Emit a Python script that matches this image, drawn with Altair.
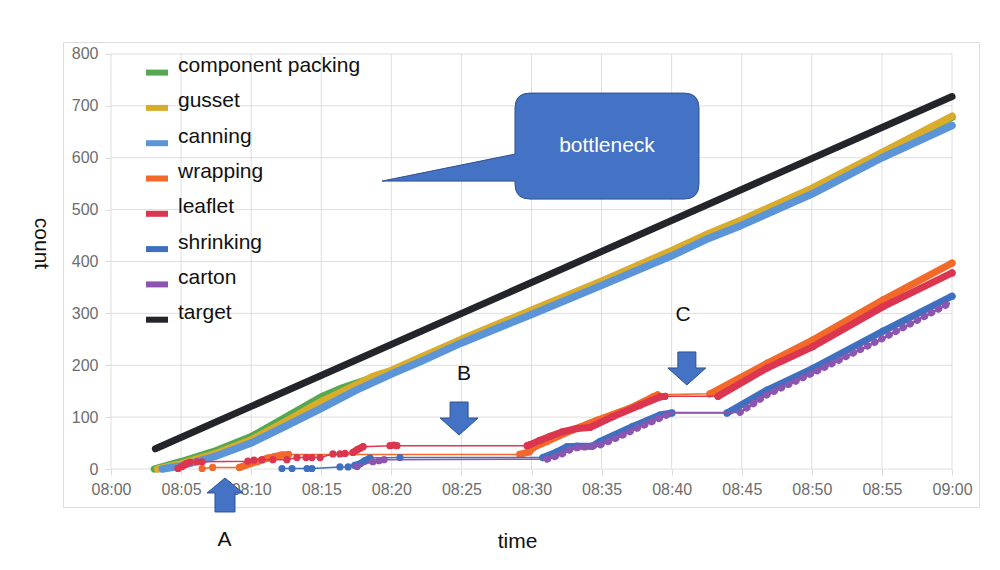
import altair as alt
import pandas as pd

# ---------------- data ----------------
SERIES = ["component packing", "gusset", "canning", "wrapping",
          "leaflet", "shrinking", "carton", "target"]
COLORS = ["#55a84f", "#d9ac2b", "#5b95d8", "#f2692a",
          "#dc3550", "#3f70c0", "#8c56b0", "#23252b"]

X_TICK_LABELS = ["08:00", "08:05", "08:10", "08:15", "08:20", "08:25", "08:30",
                 "08:35", "08:40", "08:45", "08:50", "08:55", "09:00"]
X_TICK_MINUTES = [0, 5, 10, 15, 20, 25, 30, 35, 40, 45, 50, 55, 60]
Y_TICKS = [0, 100, 200, 300, 400, 500, 600, 700, 800]

# upper (thick) series
PACKING_TIME = ["08:03:06", "08:05:00", "08:07:30", "08:10:00", "08:12:30", "08:15:00",
                "08:16:30", "08:18:40", "08:20:00", "08:22:00", "08:25:00", "08:30:00",
                "08:35:00", "08:40:00", "08:42:40", "08:45:00", "08:50:00", "08:55:00", "09:00:00"]
PACKING_COUNT = [0, 14, 35, 62, 100, 139, 156, 176, 188, 212, 248, 304,
                 360, 419, 452, 478, 539, 608, 678]

GUSSET_TIME = ["08:03:20", "08:05:00", "08:07:30", "08:10:00", "08:12:30", "08:15:00",
               "08:17:30", "08:18:40", "08:20:00", "08:22:00", "08:25:00", "08:30:00",
               "08:35:00", "08:40:00", "08:42:40", "08:45:00", "08:50:00", "08:55:00", "09:00:00"]
GUSSET_COUNT = [0, 10, 30, 56, 92, 130, 162, 178, 190, 214, 250, 306,
                362, 421, 454, 480, 541, 610, 680]

CANNING_TIME = ["08:03:40", "08:05:00", "08:07:30", "08:10:00", "08:12:30", "08:15:00",
                "08:17:30", "08:20:00", "08:22:00", "08:25:00", "08:30:00", "08:35:00",
                "08:40:00", "08:42:40", "08:45:00", "08:50:00", "08:55:00", "09:00:00"]
CANNING_COUNT = [0, 6, 25, 50, 83, 117, 152, 183, 206, 243, 298, 354,
                 411, 445, 470, 530, 600, 662]

TARGET_TIME = ["08:03:10", "09:00:00"]
TARGET_COUNT = [39, 718]

# lower series: run 0 = separate readings, run > 0 = dense stretch of readings
WRAPPING_TIME = ["08:06:30", "08:07:15", "08:09:10", "08:09:40", "08:10:25", "08:11:10",
                 "08:11:40", "08:12:10", "08:12:40",
                 "08:29:10", "08:29:50", "08:30:10", "08:31:05", "08:32:55", "08:34:40",
                 "08:37:00", "08:38:40", "08:39:00",
                 "08:42:44", "08:46:50", "08:50:05", "08:55:05", "09:00:00"]
WRAPPING_COUNT = [1, 3, 3, 8, 14, 21, 24, 27, 28,
                  28, 33, 42, 53, 75, 94, 117, 139, 143,
                  145, 204, 249, 326, 397]
WRAPPING_RUN = [0, 0, 1, 1, 1, 1, 1, 1, 1,
                2, 2, 2, 2, 2, 2, 2, 2, 2,
                3, 3, 3, 3, 3]

LEAFLET_TIME = ["08:04:47", "08:05:04", "08:05:21", "08:05:38", "08:06:08", "08:06:30",
                "08:09:46", "08:10:12", "08:10:46", "08:11:33", "08:12:33", "08:13:16",
                "08:13:55", "08:14:20", "08:14:55", "08:15:50", "08:16:20", "08:16:42",
                "08:17:16", "08:17:33", "08:17:46", "08:17:59", "08:19:54", "08:20:11",
                "08:20:24",
                "08:29:41", "08:29:53", "08:30:35", "08:31:20", "08:32:15", "08:33:15",
                "08:34:10", "08:35:49", "08:37:44", "08:39:10", "08:39:31",
                "08:43:18", "08:46:50", "08:50:05", "08:55:05", "09:00:00"]
LEAFLET_COUNT = [1, 5, 10, 13, 14, 14,
                 15, 17, 18, 18, 18, 22,
                 22, 22, 22, 29, 29, 30,
                 32, 37, 40, 43, 45, 46,
                 45,
                 45, 47, 55, 63, 72, 78,
                 80, 101, 123, 139, 140,
                 140, 195, 236, 313, 378]
LEAFLET_RUN = [1, 1, 1, 1, 0, 0,
               0, 0, 0, 0, 0, 0,
               0, 0, 0, 0, 0, 0,
               2, 2, 2, 2, 0, 0,
               0,
               0, 3, 3, 3, 3, 3,
               3, 3, 3, 3, 3,
               4, 4, 4, 4, 4]

SHRINKING_TIME = ["08:12:12", "08:12:55", "08:13:59", "08:14:20", "08:16:20", "08:16:55",
                  "08:17:24", "08:17:46", "08:18:07", "08:18:29", "08:20:37",
                  "08:30:49", "08:31:49", "08:32:32", "08:33:15", "08:34:19", "08:34:53",
                  "08:37:14", "08:39:10", "08:40:01",
                  "08:43:57", "08:46:48", "08:50:05", "08:55:05", "09:00:00"]
SHRINKING_COUNT = [1, 1, 1, 1, 4, 4, 7, 10, 16, 21, 22,
                   22, 33, 43, 44, 44, 53, 82, 104, 108,
                   108, 152, 194, 266, 333]
SHRINKING_RUN = [0, 0, 0, 0, 0, 0, 1, 1, 1, 1, 0,
                 2, 2, 2, 2, 2, 2, 2, 2, 2,
                 3, 3, 3, 3, 3]

CARTON_TIME = ["08:17:33", "08:18:41", "08:19:07", "08:19:29",
               "08:31:07", "08:32:02", "08:32:58", "08:33:40", "08:34:53", "08:36:06",
               "08:37:44", "08:39:40", "08:40:06",
               "08:44:52", "08:46:48", "08:50:05", "08:55:05", "08:59:51"]
CARTON_COUNT = [5, 14, 16, 18,
                19, 27, 40, 42, 46, 60, 81, 104, 109,
                109, 143, 185, 252, 320]
CARTON_RUN = [0, 0, 0, 0,
              1, 1, 1, 1, 1, 1, 1, 1, 1,
              2, 2, 2, 2, 2]

# annotations (tip / centre positions in data units)
LETTERS = ["A", "B", "C"]
LETTER_TIME = ["08:08:06", "08:25:11", "08:40:49"]
LETTER_COUNT = [-137, 183, 297]
DOWN_ARROW_TIME = ["08:24:50", "08:41:05"]
DOWN_ARROW_COUNT = [65.5, 162]
UP_ARROW_TIME = ["08:08:08"]
UP_ARROW_COUNT = [-17.3]
CALLOUT_TIME = ["08:19:20"]
CALLOUT_COUNT = [555]
CALLOUT_TEXT = "bottleneck"


def to_min(t):
    h, m, s = (int(v) for v in t.split(":"))
    return (h - 8) * 60 + m + s / 60.0


rows = []
for name, ts, cs in [("component packing", PACKING_TIME, PACKING_COUNT),
                     ("gusset", GUSSET_TIME, GUSSET_COUNT),
                     ("canning", CANNING_TIME, CANNING_COUNT),
                     ("target", TARGET_TIME, TARGET_COUNT)]:
    for t, c in zip(ts, cs):
        rows.append({"series": name, "time": t, "minute": to_min(t), "count": c, "run": 1})
for name, ts, cs, rs in [("wrapping", WRAPPING_TIME, WRAPPING_COUNT, WRAPPING_RUN),
                         ("leaflet", LEAFLET_TIME, LEAFLET_COUNT, LEAFLET_RUN),
                         ("shrinking", SHRINKING_TIME, SHRINKING_COUNT, SHRINKING_RUN),
                         ("carton", CARTON_TIME, CARTON_COUNT, CARTON_RUN)]:
    for t, c, r in zip(ts, cs, rs):
        rows.append({"series": name, "time": t, "minute": to_min(t), "count": c, "run": r})
df = pd.DataFrame(rows)

grid_h = pd.DataFrame({"count": Y_TICKS, "minute": 0, "minute2": 60})
grid_v = pd.DataFrame({"minute": X_TICK_MINUTES, "count": 0, "count2": 800})

letters = pd.DataFrame({"label": LETTERS, "minute": [to_min(t) for t in LETTER_TIME],
                        "count": LETTER_COUNT})
down_arrows = pd.DataFrame({"minute": [to_min(t) for t in DOWN_ARROW_TIME],
                            "count": DOWN_ARROW_COUNT})
up_arrows = pd.DataFrame({"minute": [to_min(t) for t in UP_ARROW_TIME],
                          "count": UP_ARROW_COUNT})
callout = pd.DataFrame({"minute": [to_min(t) for t in CALLOUT_TIME],
                        "count": CALLOUT_COUNT, "text": [CALLOUT_TEXT]})

# ---------------- chart ----------------
FONT = "Liberation Sans"
W, H = 916, 465
x_scale = alt.Scale(domain=[-3.424, 61.925], nice=False, zero=False)
y_scale = alt.Scale(domain=[-73.25, 823.1], nice=False, zero=False)
color_scale = alt.Scale(domain=SERIES, range=COLORS)

label_expr = "[" + ",".join("'%s'" % s for s in X_TICK_LABELS) + "][round(datum.value / 5)]"
x_axis = alt.Axis(values=X_TICK_MINUTES, labelExpr=label_expr, offset=-38, grid=False,
                  domain=False, ticks=True, tickSize=6, tickColor="#dcdcdc",
                  labelPadding=6, labelFontSize=16, labelColor="#6d6d6d", labelFont=FONT,
                  title="time", titleFontSize=21, titleFont=FONT, titleFontWeight="normal",
                  titleColor="#111111", titleX=454, titleY=72, titleAlign="center",
                  titleBaseline="middle")
y_axis = alt.Axis(values=Y_TICKS, offset=-48, grid=False, domain=False, ticks=True,
                  tickSize=6, tickColor="#dcdcdc", labelPadding=7, labelFontSize=16,
                  labelColor="#6d6d6d", labelFont=FONT,
                  title="count", titleFontSize=21, titleFont=FONT, titleFontWeight="normal",
                  titleColor="#111111", titleAngle=90, titleX=-71, titleY=201,
                  titleAlign="center", titleBaseline="middle")


def X():
    return alt.X("minute:Q", scale=x_scale, axis=x_axis)


def Y():
    return alt.Y("count:Q", scale=y_scale, axis=y_axis)


def C(legend=None):
    if legend is None:
        return alt.Color("series:N", scale=color_scale, legend=None)
    return alt.Color("series:N", scale=color_scale, legend=legend)


legend = alt.Legend(title=None, orient="none", legendX=80, legendY=10,
                    symbolType="M-1,0.6L1,0.6", symbolSize=484, symbolStrokeWidth=6,
                    labelFontSize=21, labelFont=FONT, labelColor="#111111", labelOffset=7,
                    rowPadding=2.3, padding=0, labelLimit=400)

layers = []
layers.append(alt.Chart(grid_h).mark_rule(color="#dedede", strokeWidth=1).encode(
    x=X(), x2="minute2:Q", y=Y()))
layers.append(alt.Chart(grid_v).mark_rule(color="#dedede", strokeWidth=1).encode(
    x=X(), y=Y(), y2="count2:Q"))

first = True
for name in ["component packing", "gusset", "canning"]:
    layers.append(alt.Chart(df).transform_filter(alt.datum.series == name)
                  .mark_line(strokeWidth=7.5, strokeCap="round", strokeJoin="round")
                  .encode(x=X(), y=Y(), color=C(legend if first else None),
                          order="minute:Q"))
    first = False

for name in ["wrapping", "leaflet", "shrinking", "carton"]:
    base = alt.Chart(df).transform_filter(alt.datum.series == name)
    layers.append(base.mark_line(strokeWidth=1.5).encode(
        x=X(), y=Y(), color=C(), order="minute:Q"))
    thick_kw = dict(strokeWidth=7, strokeCap="round", strokeJoin="round")
    if name == "carton":
        layers.append(base.transform_filter(alt.datum.run > 0)
                      .mark_line(strokeWidth=2.5).encode(
                          x=X(), y=Y(), color=C(), detail="run:N", order="minute:Q"))
        thick_kw = dict(strokeWidth=7, strokeCap="round", strokeDash=[0.5, 7.5])
    layers.append(base.transform_filter(alt.datum.run > 0).mark_line(**thick_kw).encode(
        x=X(), y=Y(), color=C(), detail="run:N", order="minute:Q"))
    pts = base if name != "carton" else base.transform_filter(alt.datum.run == 0)
    layers.append(pts.mark_circle(size=52, opacity=1).encode(x=X(), y=Y(), color=C()))

layers.append(alt.Chart(df).transform_filter(alt.datum.series == "target")
              .mark_line(strokeWidth=7, strokeCap="round")
              .encode(x=X(), y=Y(), color=C(), order="minute:Q"))

# annotations
ARROW_FILL, ARROW_STROKE = "#4472c4", "#2f528f"
DOWN = "M0,0 L-19,-17 L-9,-17 L-9,-33 L9,-33 L9,-17 L19,-17 Z"
UP = "M0,0 L18,15 L10,15 L10,34 L-10,34 L-10,15 L-18,15 Z"
CALLOUT = ("M0,0 L133,0 L133,3 Q133,18 148,18 L302,18 Q317,18 317,3 L317,-73 "
           "Q317,-88 302,-88 L148,-88 Q133,-88 133,-73 L133,-27 Z")
for data, shape in [(down_arrows, DOWN), (up_arrows, UP), (callout, CALLOUT)]:
    layers.append(alt.Chart(data).mark_point(shape=shape, size=4, filled=True, opacity=1,
                                             fill=ARROW_FILL, stroke=ARROW_STROKE,
                                             strokeWidth=1)
                  .encode(x=X(), y=Y()))
layers.append(alt.Chart(callout).mark_text(font=FONT, fontSize=21, color="white", dx=225,
                                           dy=-35, align="center", baseline="middle")
              .encode(x=X(), y=Y(), text="text:N"))
layers.append(alt.Chart(letters).mark_text(font=FONT, fontSize=21, color="#111111",
                                           align="center", baseline="middle")
              .encode(x=X(), y=Y(), text="label:N"))

chart = (alt.layer(*layers)
         .properties(width=W, height=H, autosize=alt.AutoSizeParams(type="none"),
                     padding={"left": 55, "top": 34, "right": 10, "bottom": 55},
                     background="white")
         .configure_view(fill="#efefef", stroke="transparent", strokeWidth=0)
         .configure(font=FONT))

chart.save("out.html", embed_options={"renderer": "svg", "actions": False})
